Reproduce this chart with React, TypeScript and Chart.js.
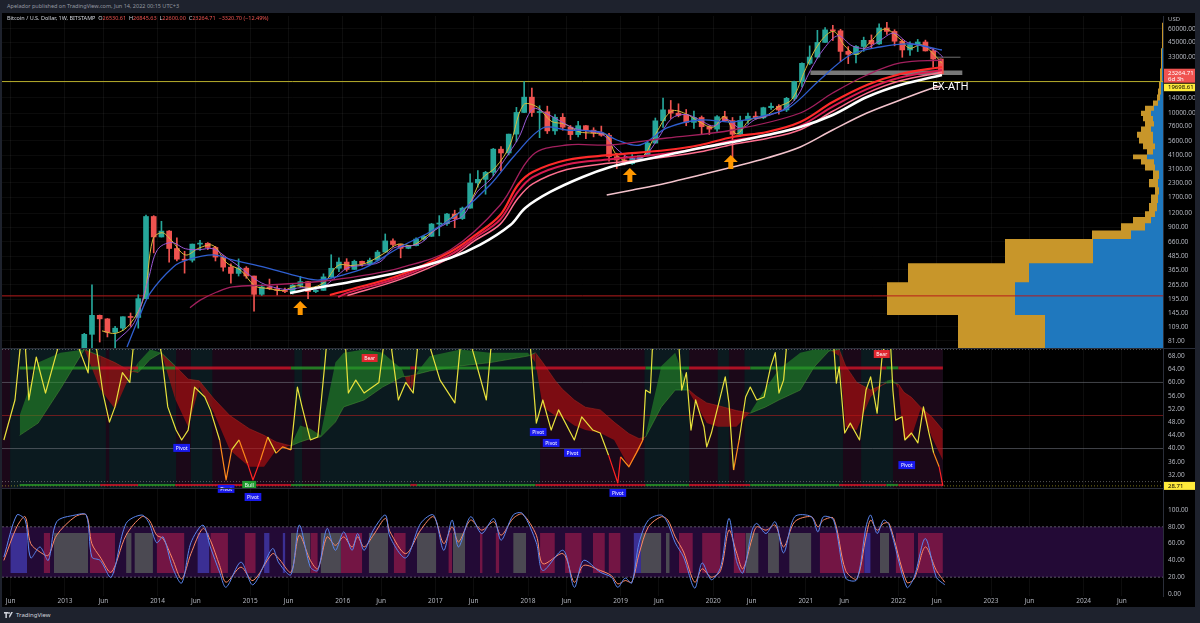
import React, { useEffect, useRef } from "react";
import { Chart, registerables } from "chart.js";

Chart.register(...registerables);

/* ===================== axis ranges ===================== */
const X_MIN = 2012.32;
const X_MAX = 2024.857;
const PRICE_MIN = 69.6;
const PRICE_MAX = 79024;
const RSI_MIN = 28.07;
const RSI_MAX = 70.42;
const STOCH_MIN = -2.38;
const STOCH_MAX = 126.2;
const VP_MAX = 1161;

/* ===================== tick labels ===================== */
const X_TICKS = [2012.414, 2013, 2013.414, 2014, 2014.414, 2015, 2015.414, 2016, 2016.414, 2017, 2017.414, 2018, 2018.414, 2019, 2019.414, 2020, 2020.414, 2021, 2021.414, 2022, 2022.414, 2023, 2023.414, 2024, 2024.414];
const PRICE_TICKS = [60000, 45000, 33000, 14000, 10000, 7600, 5600, 4100, 3100, 2300, 1700, 1200, 900, 660, 485, 365, 265, 195, 145, 109, 81];
const RSI_TICKS = [68, 64, 60, 56, 52, 48, 44, 40, 36, 32];
const STOCH_TICKS = [100, 80, 60, 40, 20, 0];

/* ===================== headline values ===================== */
const LAST_PRICE = 23264.71;
const TIME_LEFT = "6d 3h";
const EX_ATH = 19698.61;
const SUPPORT = 210;
const RSI_LAST = 28.71;

/* ===================== monthly candles Jun 2012 – Jun 2022 (O,H,L,C) ===================== */
const CANDLE_START = 2012 + 5 / 12;
const OHLC: number[][] = [
  [5.2, 6.9, 5.2, 6.7], [6.7, 9.6, 6.5, 9.3], [9.3, 15.4, 7.1, 10.1], [10.1, 12.5, 9.9, 12.4], [12.4, 12.8, 9.8, 11.2], [11.2, 12.9, 10.5, 12.6], [12.6, 13.9, 12.5, 13.5],
  [13.5, 20.7, 13.2, 20.4], [20.4, 34, 19.6, 33.4], [33.4, 95, 33, 93], [93, 266, 50, 139], [139, 140, 79, 129], [129, 130, 88, 97], [97, 110, 65, 106], [106, 135, 101, 135], [135, 146, 110, 133], [133, 215, 106, 198], [198, 1163, 199, 1129], [1129, 1150, 522, 732],
  [732, 1020, 730, 829], [829, 840, 430, 573], [573, 720, 440, 457], [457, 540, 340, 447], [447, 630, 430, 629], [629, 680, 550, 640], [640, 650, 560, 586], [586, 600, 440, 478], [478, 495, 355, 386], [386, 415, 275, 338], [338, 460, 320, 378], [378, 390, 305, 320],
  [320, 320, 152, 217], [217, 265, 212, 254], [254, 300, 240, 244], [244, 260, 214, 236], [236, 248, 225, 230], [230, 268, 218, 263], [263, 318, 253, 284], [284, 286, 198, 230], [230, 245, 225, 236], [236, 335, 236, 314], [314, 502, 307, 377], [377, 470, 350, 430],
  [430, 462, 354, 368], [368, 448, 368, 437], [437, 440, 395, 416], [416, 468, 414, 448], [448, 550, 438, 531], [531, 780, 527, 673], [673, 704, 600, 624], [624, 627, 470, 575], [575, 612, 570, 609], [609, 720, 605, 700], [700, 757, 685, 742], [742, 975, 740, 963],
  [963, 1150, 750, 970], [970, 1210, 935, 1190], [1190, 1290, 890, 1080], [1080, 1380, 1060, 1348], [1348, 2790, 1350, 2300], [2300, 2990, 2100, 2480], [2480, 2940, 1810, 2875], [2875, 4780, 2670, 4703], [4703, 4980, 2970, 4338], [4338, 6470, 4160, 6468], [6468, 11400, 5500, 10233], [10233, 19666, 10200, 14156],
  [14156, 17200, 9400, 10221], [10221, 11800, 6000, 10397], [10397, 11700, 6550, 6926], [6926, 9770, 6430, 9240], [9240, 10000, 7030, 7494], [7494, 7770, 5750, 6404], [6404, 8500, 6100, 7730], [7730, 7770, 5880, 7033], [7033, 7410, 6100, 6635], [6635, 7670, 6180, 6317], [6317, 6580, 3650, 4017], [4017, 4310, 3120, 3742],
  [3742, 4080, 3360, 3457], [3457, 4200, 3400, 3854], [3854, 4120, 3700, 4105], [4105, 5650, 4080, 5350], [5350, 9100, 5340, 8574], [8574, 13880, 7470, 10817], [10817, 13200, 9000, 10085], [10085, 12300, 9330, 9630], [9630, 10900, 7730, 8293], [8293, 10540, 7300, 9199], [9199, 9500, 6520, 7569], [7569, 7750, 6410, 7193],
  [7193, 9580, 6850, 9350], [9350, 10500, 8440, 8599], [8599, 9200, 3850, 6438], [6438, 9470, 6150, 8658], [8658, 10080, 8100, 9461], [9461, 10380, 8890, 9137], [9137, 11450, 8960, 11323], [11323, 12470, 10940, 11680], [11680, 12080, 9880, 10784], [10784, 14100, 10430, 13804], [13804, 19870, 13200, 19700], [19700, 29300, 17600, 28990],
  [28990, 41950, 28130, 33114], [33114, 58350, 32300, 45137], [45137, 61780, 44950, 58918], [58918, 64895, 47000, 57750], [57750, 59600, 30000, 37332], [37332, 41300, 28800, 35040], [35040, 42300, 29300, 41461], [41461, 50500, 37330, 47166], [47166, 52900, 39600, 43790], [43790, 67000, 43300, 61318], [61318, 69000, 53500, 57005], [57005, 59100, 42000, 46306],
  [46306, 47990, 32950, 38483], [38483, 45800, 34300, 43194], [43194, 48100, 37200, 45538], [45538, 47400, 37600, 37714], [37714, 39800, 26700, 31792], [31792, 31900, 22600, 23264.71],
];

/* ===================== moving averages on price [year, price] ===================== */
const MA_YELLOW = [[2013.40, 100], [2013.55, 95], [2013.70, 115], [2013.85, 200], [2013.95, 700], [2014.05, 800], [2014.15, 680], [2014.30, 500], [2014.45, 580], [2014.60, 610], [2014.75, 420], [2014.90, 360], [2015.05, 260], [2015.20, 245], [2015.35, 235], [2015.50, 260], [2015.65, 250], [2015.80, 280], [2015.95, 400], [2016.10, 400], [2016.25, 420], [2016.45, 520], [2016.60, 630], [2016.75, 610], [2016.90, 740], [2017.05, 920], [2017.20, 1150], [2017.35, 1400], [2017.50, 2500], [2017.65, 3200], [2017.80, 5000], [2017.95, 12000], [2018.10, 11500], [2018.25, 8500], [2018.40, 8000], [2018.55, 6800], [2018.70, 6600], [2018.85, 6300], [2018.95, 4200], [2019.10, 3600], [2019.25, 4100], [2019.40, 7000], [2019.55, 10500], [2019.70, 10000], [2019.85, 8400], [2020.00, 7500], [2020.12, 9400], [2020.25, 6500], [2020.40, 8800], [2020.55, 9300], [2020.70, 11500], [2020.85, 13500], [2021.00, 26000], [2021.15, 45000], [2021.30, 57000], [2021.42, 42000], [2021.55, 35000], [2021.70, 46000], [2021.85, 60000], [2022.00, 50000], [2022.12, 40000], [2022.25, 43000], [2022.37, 36000], [2022.47, 29000]];
const MA_PURPLE = [[2013.55, 80], [2013.75, 120], [2013.90, 300], [2014.00, 560], [2014.15, 650], [2014.30, 570], [2014.45, 560], [2014.60, 570], [2014.75, 470], [2014.90, 380], [2015.05, 300], [2015.20, 260], [2015.40, 240], [2015.55, 250], [2015.75, 245], [2015.90, 300], [2016.05, 380], [2016.20, 400], [2016.40, 430], [2016.55, 580], [2016.70, 600], [2016.85, 650], [2017.00, 850], [2017.15, 1000], [2017.30, 1150], [2017.45, 1900], [2017.60, 2500], [2017.75, 3800], [2017.90, 6000], [2018.05, 11000], [2018.20, 10000], [2018.35, 8500], [2018.50, 7300], [2018.65, 6900], [2018.80, 6500], [2018.95, 4800], [2019.10, 3900], [2019.25, 4000], [2019.40, 5800], [2019.55, 9000], [2019.70, 9800], [2019.85, 8800], [2020.00, 7700], [2020.15, 8800], [2020.30, 7300], [2020.45, 8800], [2020.60, 9600], [2020.75, 10800], [2020.90, 14000], [2021.05, 25000], [2021.20, 40000], [2021.35, 52000], [2021.50, 42000], [2021.65, 40000], [2021.80, 47000], [2021.95, 55000], [2022.10, 45000], [2022.25, 42000], [2022.40, 38000], [2022.48, 33000]];
const MA_BLUE = [[2013.67, 71], [2013.81, 140], [2013.92, 223], [2014.17, 388], [2014.32, 450], [2014.60, 500], [2014.81, 450], [2015.18, 380], [2015.54, 314], [2015.75, 294], [2016.08, 342], [2016.26, 388], [2016.62, 592], [2016.94, 813], [2017.27, 1243], [2017.59, 2202], [2017.86, 4159], [2018.16, 7368], [2018.42, 7060], [2018.78, 6769], [2018.96, 5710], [2019.21, 5137], [2019.50, 7368], [2019.86, 8727], [2020.21, 8365], [2020.58, 9703], [2020.83, 11490], [2021.15, 20360], [2021.48, 34590], [2021.80, 40980], [2022.13, 43660], [2022.47, 38450]];
const MA_MAROON = [[2014.35, 163], [2014.46, 192], [2014.64, 228], [2014.81, 254], [2015.18, 264], [2015.54, 276], [2015.89, 294], [2016.26, 327], [2016.62, 380], [2017.16, 556], [2017.70, 1441], [2018.05, 4159], [2018.42, 5137], [2018.89, 5137], [2019.50, 5960], [2020.21, 7060], [2020.94, 10120], [2021.29, 15460], [2021.66, 22640], [2022.02, 29200], [2022.47, 31110]];
const MA_RED_A = [[2015.86, 214], [2016.06, 238], [2016.62, 327], [2017.16, 532], [2017.43, 760], [2017.70, 1166], [2017.89, 2200], [2018.05, 2899], [2018.42, 3739], [2018.89, 4159], [2019.50, 4620], [2019.86, 5137], [2020.21, 6090], [2020.58, 6769], [2020.94, 8365], [2021.29, 12776], [2021.66, 18330], [2022.02, 23130], [2022.47, 26830]];
const MA_RED_B = [[2015.95, 205], [2016.06, 225], [2016.62, 312], [2017.16, 500], [2017.43, 720], [2017.70, 1060], [2017.89, 1900], [2018.05, 2600], [2018.42, 3400], [2018.89, 3800], [2019.50, 4300], [2019.86, 4800], [2020.21, 5650], [2020.58, 6300], [2020.94, 7700], [2021.29, 11600], [2021.66, 16800], [2022.02, 21500], [2022.47, 25200]];
const MA_RED_C = [[2016.05, 212], [2016.62, 298], [2017.16, 470], [2017.43, 680], [2017.70, 960], [2017.89, 1650], [2018.05, 2250], [2018.42, 3050], [2018.89, 3500], [2019.50, 4000], [2019.86, 4450], [2020.21, 5200], [2020.58, 5900], [2020.94, 7100], [2021.29, 10500], [2021.66, 15400], [2022.02, 20000], [2022.47, 24000]];
const MA_WHITE = [[2015.43, 223], [2015.72, 249], [2016.08, 282], [2016.62, 349], [2017.16, 469], [2017.48, 618], [2017.81, 943], [2017.97, 1353], [2018.24, 1899], [2018.59, 2608], [2018.89, 3222], [2019.13, 3583], [2019.50, 4159], [2019.86, 4822], [2020.21, 5476], [2020.58, 6349], [2020.94, 7525], [2021.29, 9703], [2021.66, 14200], [2022.02, 18330], [2022.47, 22640]];
const MA_PINK = [[2018.85, 1781], [2019.13, 1980], [2019.50, 2297], [2019.86, 2721], [2020.21, 3222], [2020.58, 3901], [2020.94, 4925], [2021.29, 7060], [2021.66, 10120], [2022.02, 13330], [2022.37, 17190], [2022.47, 17930]];

/* ===================== volume profile rows [low, high, total, buy] ===================== */
const VP_ROWS = [
  [0, 140, 205, 118], [140, 280, 276, 148], [280, 420, 255, 134], [420, 560, 158, 70], [560, 700, 158, 70], [700, 840, 71, 32], [840, 980, 42, 18], [980, 1120, 30, 12], [1120, 1260, 18, 8],
  [1260, 1500, 14, 6], [1500, 1800, 12, 5], [1800, 2100, 8, 4], [2100, 2500, 14, 5], [2500, 3000, 10, 4], [3000, 3400, 18, 8], [3400, 3800, 22, 9], [3800, 4200, 30, 16], [4200, 4700, 16, 10],
  [4700, 5300, 20, 8], [5300, 6000, 24, 10], [6000, 6800, 26, 10], [6800, 7600, 22, 12], [7600, 8500, 18, 9], [8500, 9500, 20, 10], [9500, 10600, 22, 12], [10600, 11800, 18, 9],
  [11800, 13200, 10, 5], [13200, 15000, 6, 3], [15000, 17000, 5, 2], [17000, 19500, 4, 2], [19500, 22000, 3, 1], [22000, 26000, 3, 1], [26000, 30000, 2, 1], [30000, 40000, 2, 1], [40000, 69000, 1, 0],
];

/* ===================== annotations ===================== */
const ARROWS = [[2015.54, 188], [2019.10, 3157], [2020.19, 4159]];
const EX_ATH_TEXT = "EX-ATH";
const EX_ATH_POS = [2022.56, 17600];
const GRAY_ZONE = [2021.05, 2022.69, 23800];
const GRAY_TICK = [2022.40, 2022.67, 33000];

/* ===================== RSI panel ===================== */
const RSI_LINE = [[2012.34, 42.6], [2012.46, 54.7], [2012.55, 80], [2012.61, 54.7], [2012.69, 67.7], [2012.79, 56.8], [2012.91, 69], [2013.02, 80], [2013.25, 62.9], [2013.29, 80], [2013.41, 56.8], [2013.48, 48], [2013.54, 52.6], [2013.62, 63], [2013.70, 60], [2013.77, 80], [2013.95, 80], [2014.04, 69], [2014.11, 52.6], [2014.20, 45.6], [2014.26, 42.6], [2014.33, 45.6], [2014.40, 58.6], [2014.51, 55.6], [2014.57, 51.7], [2014.67, 42.6], [2014.74, 30.5], [2014.80, 39.6], [2014.88, 42.6], [2014.97, 35.6], [2015.03, 30.5], [2015.11, 36.5], [2015.19, 43.5], [2015.28, 38.6], [2015.35, 40.5], [2015.44, 39.6], [2015.51, 58.6], [2015.56, 52.6], [2015.65, 42.6], [2015.73, 43.5], [2015.81, 66.8], [2015.85, 80], [2016.01, 80], [2016.06, 56.8], [2016.14, 60.7], [2016.23, 56.8], [2016.39, 60], [2016.48, 80], [2016.60, 54.7], [2016.68, 60], [2016.76, 56.8], [2016.84, 80], [2017.05, 60.7], [2017.21, 53.8], [2017.30, 80], [2017.55, 54.7], [2017.63, 80], [2018.00, 80], [2018.09, 47.7], [2018.16, 54.7], [2018.25, 45.6], [2018.33, 51.7], [2018.50, 42.6], [2018.58, 49.6], [2018.70, 45.6], [2018.78, 44.7], [2018.87, 38], [2018.97, 29.6], [2019.00, 37.5], [2019.09, 34.5], [2019.17, 38.7], [2019.24, 42.6], [2019.27, 57.7], [2019.32, 56.8], [2019.36, 80], [2019.61, 80], [2019.66, 57.7], [2019.71, 63], [2019.76, 45.6], [2019.81, 54.7], [2019.90, 46.6], [2019.93, 40.5], [2019.98, 44.7], [2020.05, 52.6], [2020.13, 61.7], [2020.17, 53.8], [2020.22, 33.5], [2020.28, 42.6], [2020.35, 55.6], [2020.40, 58.6], [2020.47, 54.7], [2020.55, 55.6], [2020.62, 64.7], [2020.67, 69], [2020.71, 56.8], [2020.76, 60.7], [2020.82, 80], [2021.28, 80], [2021.33, 59.8], [2021.36, 64.7], [2021.42, 44.7], [2021.48, 47.7], [2021.58, 42.6], [2021.65, 57.7], [2021.70, 61.7], [2021.77, 50.7], [2021.82, 66.8], [2021.90, 80], [2021.94, 57.7], [2021.97, 48.6], [2022.04, 49.6], [2022.07, 42.6], [2022.14, 44.7], [2022.21, 41.7], [2022.27, 52.6], [2022.33, 44.7], [2022.38, 38.7], [2022.44, 34.5], [2022.48, 28.71]];
const CLOUD_T = [2012.51, 2012.71, 2012.95, 2013.21, 2013.38, 2013.54, 2013.70, 2013.79, 2013.92, 2014.04, 2014.19, 2014.33, 2014.45, 2014.61, 2014.78, 2014.99, 2015.15, 2015.28, 2015.44, 2015.54, 2015.65, 2015.76, 2015.92, 2016.01, 2016.23, 2016.43, 2016.64, 2016.73, 2016.80, 2016.94, 2017.27, 2017.59, 2018.00, 2018.08, 2018.16, 2018.29, 2018.37, 2018.50, 2018.62, 2018.78, 2018.93, 2019.09, 2019.20, 2019.27, 2019.44, 2019.59, 2019.74, 2019.81, 2019.93, 2020.05, 2020.25, 2020.40, 2020.56, 2020.71, 2020.94, 2021.09, 2021.25, 2021.36, 2021.43, 2021.55, 2021.70, 2021.87, 2021.94, 2022.00, 2022.06, 2022.14, 2022.24, 2022.36, 2022.48];
const CLOUD_FAST = [50, 66, 69, 70, 58, 52, 62, 66, 70, 69, 55, 46.6, 58.6, 50.7, 39.6, 34.5, 34.5, 39.6, 41, 47, 46, 44, 66, 69, 70, 69, 64, 57, 63, 68, 70, 69, 69, 66, 52.6, 50, 49.6, 47, 45.6, 44.7, 42.6, 34.5, 39.6, 44, 65, 69, 57, 53.8, 47.7, 46.6, 46.6, 51, 58, 64, 69, 70, 70, 68, 46.6, 45.6, 55.6, 60.5, 61, 58, 42.6, 43.5, 52, 43.5, 36.5];
const CLOUD_SLOW = [44, 47.7, 58, 70, 68, 66, 63.5, 63, 67, 69, 65, 61, 60.5, 55, 50, 46, 44, 42, 40.8, 42, 43, 43.5, 48, 52.6, 54.7, 58.6, 61.7, 62, 62.5, 63.5, 65, 66, 68, 69, 66, 60.7, 58, 54.7, 52.5, 51.7, 48, 44.5, 43, 43.5, 52.6, 57.7, 57.7, 56, 53.8, 53, 51.5, 50.7, 52.5, 54.7, 57.7, 64.7, 69.5, 70, 65, 60, 57.7, 59.8, 60, 59.5, 57, 55.5, 52.5, 49.6, 45.6];
const SIGNAL_TOP = 64.4;
const SIGNAL_BOTTOM = 29.0;
const RSI_TEAL_BANDS = [[2012.32, 2022.48]];
const RSI_MAROON_BANDS = [[2012.32, 2012.41], [2013.44, 2013.48], [2014.20, 2014.36], [2014.59, 2015.48], [2015.56, 2015.76], [2018.13, 2019.26], [2019.74, 2020.05], [2020.17, 2020.34], [2021.40, 2021.60], [2021.94, 2022.48]];
const RSI_LABELS: any[] = [[2014.26, 40.2, "Pivot"], [2014.74, 27.8, "Pivot"], [2015.03, 25.35, "Pivot"], [2014.99, 29.0, "Bull"], [2018.11, 45.0, "Pivot"], [2018.25, 41.7, "Pivot"], [2018.48, 38.7, "Pivot"], [2018.97, 26.6, "Pivot"], [2022.09, 35.0, "Pivot"], [2016.29, 67.4, "Bear"], [2021.82, 68.6, "Bear"]];

/* ===================== Stochastic panel ===================== */
const STOCH_K = [[2012.34, 44], [2012.48, 94], [2012.57, 88], [2012.63, 43], [2012.73, 56], [2012.82, 40], [2012.91, 86], [2013.11, 94], [2013.23, 94], [2013.29, 44], [2013.38, 40], [2013.50, 20], [2013.66, 84], [2013.83, 94], [2013.91, 84], [2013.99, 61], [2014.06, 68], [2014.16, 32], [2014.26, 13], [2014.36, 61], [2014.49, 82], [2014.57, 56], [2014.67, 26], [2014.74, 8], [2014.90, 38], [2015.03, 11], [2015.24, 54], [2015.31, 37], [2015.44, 23], [2015.53, 82], [2015.65, 32], [2015.73, 28], [2015.83, 78], [2015.92, 52], [2016.01, 74], [2016.10, 52], [2016.16, 72], [2016.23, 52], [2016.33, 76], [2016.46, 94], [2016.51, 68], [2016.68, 43], [2016.84, 84], [2016.98, 94], [2017.09, 52], [2017.18, 88], [2017.25, 56], [2017.38, 92], [2017.50, 72], [2017.63, 90], [2017.71, 64], [2017.84, 94], [2017.94, 96], [2018.09, 61], [2018.16, 28], [2018.38, 52], [2018.50, 8], [2018.60, 40], [2018.78, 26], [2018.90, 20], [2018.97, 8], [2019.05, 19], [2019.12, 13], [2019.20, 61], [2019.30, 88], [2019.44, 94], [2019.51, 84], [2019.59, 61], [2019.68, 44], [2019.80, 7], [2019.88, 37], [2019.98, 17], [2020.08, 32], [2020.17, 90], [2020.25, 40], [2020.32, 25], [2020.42, 76], [2020.47, 84], [2020.57, 72], [2020.67, 86], [2020.76, 49], [2020.88, 92], [2021.06, 92], [2021.13, 74], [2021.19, 92], [2021.30, 88], [2021.43, 19], [2021.55, 17], [2021.65, 80], [2021.70, 94], [2021.77, 72], [2021.84, 88], [2021.90, 82], [2022.09, 8], [2022.17, 20], [2022.29, 66], [2022.41, 20], [2022.50, 11]];
const STOCH_D = [[2012.34, 40], [2012.48, 80], [2012.57, 92], [2012.63, 60], [2012.73, 50], [2012.82, 46], [2012.91, 70], [2013.11, 92], [2013.23, 94], [2013.29, 60], [2013.38, 44], [2013.50, 26], [2013.66, 70], [2013.83, 92], [2013.91, 88], [2013.99, 70], [2014.06, 66], [2014.16, 42], [2014.26, 18], [2014.36, 48], [2014.49, 78], [2014.57, 64], [2014.67, 34], [2014.74, 14], [2014.90, 32], [2015.03, 16], [2015.24, 48], [2015.31, 42], [2015.44, 26], [2015.53, 70], [2015.65, 40], [2015.73, 30], [2015.83, 68], [2015.92, 58], [2016.01, 68], [2016.10, 56], [2016.16, 68], [2016.23, 56], [2016.33, 70], [2016.46, 90], [2016.51, 74], [2016.68, 48], [2016.84, 76], [2016.98, 92], [2017.09, 60], [2017.18, 80], [2017.25, 62], [2017.38, 88], [2017.50, 76], [2017.63, 86], [2017.71, 70], [2017.84, 90], [2017.94, 95], [2018.09, 70], [2018.16, 36], [2018.38, 48], [2018.50, 14], [2018.60, 34], [2018.78, 28], [2018.90, 22], [2018.97, 12], [2019.05, 16], [2019.12, 14], [2019.20, 48], [2019.30, 80], [2019.44, 92], [2019.51, 88], [2019.59, 68], [2019.68, 50], [2019.80, 14], [2019.88, 30], [2019.98, 20], [2020.08, 28], [2020.17, 76], [2020.25, 50], [2020.32, 30], [2020.42, 66], [2020.47, 80], [2020.57, 76], [2020.67, 82], [2020.76, 56], [2020.88, 86], [2021.06, 92], [2021.13, 80], [2021.19, 88], [2021.30, 90], [2021.43, 28], [2021.55, 18], [2021.65, 68], [2021.70, 88], [2021.77, 76], [2021.84, 84], [2021.90, 84], [2022.09, 14], [2022.17, 18], [2022.29, 56], [2022.41, 28], [2022.50, 14]];
const STOCH_BAND = [20, 80];
const STOCH_BLOCK = [25, 72.6];
const STOCH_GRAY = [[2012.88, 2013.25], [2013.66, 2013.72], [2013.75, 2013.95], [2015.44, 2015.65], [2015.76, 2015.98], [2016.28, 2016.49], [2016.80, 2017.01], [2017.19, 2017.32], [2017.84, 2017.98], [2019.22, 2019.44], [2019.49, 2019.53], [2020.35, 2020.49], [2020.59, 2020.71], [2020.82, 2021.06], [2021.80, 2021.90]];
const STOCH_RED = [[2012.77, 2012.84], [2013.27, 2013.54], [2013.99, 2014.29], [2014.57, 2014.76], [2014.94, 2015.06], [2015.65, 2015.73], [2015.98, 2016.21], [2016.55, 2016.68], [2017.14, 2017.18], [2017.48, 2017.51], [2017.65, 2017.69], [2018.13, 2018.29], [2018.40, 2018.58], [2018.70, 2018.83], [2018.87, 2019.00], [2019.63, 2019.78], [2019.88, 2020.08], [2020.22, 2020.35], [2021.15, 2021.63], [2021.97, 2022.17], [2022.21, 2022.48]];
const STOCH_BLUE = [[2012.41, 2012.59], [2014.43, 2014.56], [2015.15, 2015.21], [2015.35, 2015.38], [2019.14, 2019.22], [2021.63, 2021.70]];

/* ===================== helpers ===================== */
const FONT = '"Noto Sans", Roboto, sans-serif';
const UP = "#26a69a";
const DOWN = "#ef5350";
const pts = (pairs: any[]) => pairs.map(([x, y]: number[]) => ({ x, y }));
const bandPts = (bands: any[], top: number) => bands.flatMap(([a, b]: number[]) => [{ x: a, y: top }, { x: b, y: top }, { x: b, y: null }]);
const flat = (v: number, x0 = X_MIN, x1 = X_MAX) => [{ x: x0, y: v }, { x: x1, y: v }];
const candleX = (i: number) => CANDLE_START + (i + 0.5) / 12;
const rsiColor = (v: number) => (v < 34 ? "#ff2424" : v < 41 ? "#ff8a1c" : "#e9e23c");
const cloudUp = (i: number) => CLOUD_FAST[i] >= CLOUD_SLOW[i];

function buildDatasets() {
  const ds: any[] = [];
  const L = (o: any) => ds.push({ type: "line", xAxisID: "x", pointRadius: 0, borderWidth: 1, fill: false, ...o });

  // RSI backgrounds
  L({ yAxisID: "yr", data: bandPts(RSI_TEAL_BANDS, RSI_MAX), fill: "start", backgroundColor: "#0b1a1f", borderWidth: 0, order: 100 });
  L({ yAxisID: "yr", data: bandPts(RSI_MAROON_BANDS, RSI_MAX), fill: "start", backgroundColor: "#1b0818", borderWidth: 0, order: 99 });
  // Stoch band + blocks
  L({ yAxisID: "ys", data: flat(STOCH_BAND[1]), fill: { value: STOCH_BAND[0] }, backgroundColor: "#230a36", borderWidth: 0, order: 100 });
  L({ yAxisID: "ys", data: bandPts(STOCH_GRAY, STOCH_BLOCK[1]), fill: { value: STOCH_BLOCK[0] }, backgroundColor: "#4b4952", borderWidth: 0, order: 98 });
  L({ yAxisID: "ys", data: bandPts(STOCH_RED, STOCH_BLOCK[1]), fill: { value: STOCH_BLOCK[0] }, backgroundColor: "#731544", borderWidth: 0, order: 98 });
  L({ yAxisID: "ys", data: bandPts(STOCH_BLUE, STOCH_BLOCK[1]), fill: { value: STOCH_BLOCK[0] }, backgroundColor: "#3b2f94", borderWidth: 0, order: 98 });

  // volume profile (horizontal, drawn from the right edge)
  const vp = (col: number) => VP_ROWS.flatMap((r) => [{ x: r[col], y: Math.max(r[0], PRICE_MIN) }, { x: r[col], y: r[1] }]);
  ds.push({ type: "line", indexAxis: "y", xAxisID: "xv", yAxisID: "y", data: vp(2), fill: "origin", backgroundColor: "#c8962a", borderWidth: 0, pointRadius: 0, order: 91 });
  ds.push({ type: "line", indexAxis: "y", xAxisID: "xv", yAxisID: "y", data: vp(3), fill: "origin", backgroundColor: "#1f78be", borderWidth: 0, pointRadius: 0, order: 90 });

  // horizontal price lines
  L({ yAxisID: "y", data: flat(SUPPORT), borderColor: "#b71c1c", borderWidth: 1, order: 50 });
  L({ yAxisID: "y", data: flat(EX_ATH), borderColor: "#b8ae2c", borderWidth: 1, order: 50 });
  L({ yAxisID: "y", data: flat(GRAY_ZONE[2], GRAY_ZONE[0], GRAY_ZONE[1]), borderColor: "rgba(150,150,150,0.8)", borderWidth: 4.5, order: 49 });
  L({ yAxisID: "y", data: flat(GRAY_TICK[2], GRAY_TICK[0], GRAY_TICK[1]), borderColor: "rgba(150,150,150,0.7)", borderWidth: 1, order: 49 });

  // candles
  const col = OHLC.map((c) => (c[3] >= c[0] ? UP : DOWN));
  ds.push({ type: "bar", xAxisID: "x", yAxisID: "y", grouped: false, barThickness: 1, data: OHLC.map((c, i) => ({ x: candleX(i), y: [c[2], c[1]] })), backgroundColor: col, order: 31 });
  ds.push({ type: "bar", xAxisID: "x", yAxisID: "y", grouped: false, barThickness: 5, minBarLength: 1, data: OHLC.map((c, i) => ({ x: candleX(i), y: [c[0], c[3]] })), backgroundColor: col, order: 30 });

  // moving averages
  const ma = (pairs: any[], color: string, w: number) => L({ yAxisID: "y", data: pts(pairs), borderColor: color, borderWidth: w, tension: 0.35, order: 20 });
  ma(MA_PINK, "#f3c3cc", 1.6);
  ma(MA_WHITE, "#ffffff", 2.6);
  ma(MA_RED_C, "#ff6f8f", 1.5);
  ma(MA_RED_B, "#d81b50", 2);
  ma(MA_RED_A, "#ff2a2a", 2.2);
  ma(MA_MAROON, "#a3205e", 1.3);
  ma(MA_BLUE, "#2f5fd0", 1.3);
  ma(MA_PURPLE, "#9b59d6", 1);
  ma(MA_YELLOW, "#d9bb3c", 1);

  // RSI levels
  L({ yAxisID: "yr", data: flat(70), borderColor: "rgba(190,190,190,0.45)", borderDash: [1, 2], order: 60 });
  L({ yAxisID: "yr", data: flat(60), borderColor: "rgba(120,123,134,0.55)", order: 60 });
  L({ yAxisID: "yr", data: flat(50), borderColor: "rgba(150,30,30,0.7)", order: 60 });
  L({ yAxisID: "yr", data: flat(40), borderColor: "rgba(120,123,134,0.55)", order: 60 });
  L({ yAxisID: "yr", data: flat(30), borderColor: "rgba(190,190,190,0.45)", borderDash: [1, 2], order: 60 });
  L({ yAxisID: "yr", data: flat(RSI_LAST), borderColor: "rgba(200,190,40,0.6)", borderDash: [1, 2], order: 60 });

  // RSI cloud (fast filled to slow)
  L({ yAxisID: "yr", data: CLOUD_T.map((t, i) => ({ x: t, y: CLOUD_FAST[i] })), fill: { target: "+1", above: "rgba(40,150,40,0.55)", below: "rgba(190,15,15,0.6)" }, borderColor: "rgba(0,0,0,0)", borderWidth: 0, order: 41 });
  L({ yAxisID: "yr", data: CLOUD_T.map((t, i) => ({ x: t, y: CLOUD_SLOW[i] })), borderWidth: 0.8, segment: { borderColor: (c: any) => (cloudUp(c.p0DataIndex) ? "rgba(60,170,60,0.6)" : "rgba(200,30,30,0.6)") }, order: 40 });
  // signal rows
  const sig = (v: number, w: number) => L({ yAxisID: "yr", data: CLOUD_T.map((t) => ({ x: t, y: v })), borderWidth: w, segment: { borderColor: (c: any) => (cloudUp(c.p0DataIndex) ? "rgba(40,150,40,0.8)" : "rgba(210,20,40,0.8)") }, order: 35 });
  sig(SIGNAL_TOP, 3);
  sig(SIGNAL_BOTTOM, 2);
  // RSI line
  L({ yAxisID: "yr", data: pts(RSI_LINE), borderWidth: 1.2, borderColor: "#e9e23c", segment: { borderColor: (c: any) => rsiColor((c.p0.parsed.y + c.p1.parsed.y) / 2) }, order: 10 });

  // Stoch
  L({ yAxisID: "ys", data: flat(STOCH_BAND[1]), borderColor: "rgba(140,140,150,0.6)", borderDash: [2, 2], order: 60 });
  L({ yAxisID: "ys", data: flat(STOCH_BAND[0]), borderColor: "rgba(140,140,150,0.6)", borderDash: [2, 2], order: 60 });
  L({ yAxisID: "ys", data: pts(STOCH_D), borderColor: "#ff8a65", borderWidth: 1, tension: 0.3, order: 11 });
  L({ yAxisID: "ys", data: pts(STOCH_K), borderColor: "#5b86f0", borderWidth: 1, tension: 0.3, order: 10 });
  return ds;
}

const overlayPlugin = {
  id: "overlay",
  afterDatasetsDraw(chart: any) {
    const { ctx, scales } = chart;
    const { x, y, yr } = scales;
    ctx.save();
    ctx.fillStyle = "#ff9800";
    for (const [t, p] of ARROWS) {
      const px = x.getPixelForValue(t);
      const py = y.getPixelForValue(p);
      ctx.beginPath();
      ctx.moveTo(px, py);
      ctx.lineTo(px + 7, py + 7);
      ctx.lineTo(px + 2.5, py + 7);
      ctx.lineTo(px + 2.5, py + 14);
      ctx.lineTo(px - 2.5, py + 14);
      ctx.lineTo(px - 2.5, py + 7);
      ctx.lineTo(px - 7, py + 7);
      ctx.closePath();
      ctx.fill();
    }
    ctx.font = `11px ${FONT}`;
    ctx.fillStyle = "#ffffff";
    ctx.textAlign = "center";
    ctx.textBaseline = "middle";
    ctx.fillText(EX_ATH_TEXT, x.getPixelForValue(EX_ATH_POS[0]), y.getPixelForValue(EX_ATH_POS[1]));
    ctx.font = `5px ${FONT}`;
    for (const [t, v, txt] of RSI_LABELS) {
      const px = x.getPixelForValue(t);
      const py = yr.getPixelForValue(v);
      const w = ctx.measureText(txt).width + 5;
      const h = 8;
      ctx.fillStyle = txt === "Pivot" ? "#1a1aee" : txt === "Bull" ? "#1f9d2f" : "#e0262f";
      ctx.fillRect(px - w / 2, py - h / 2, w, h);
      ctx.fillStyle = "#ffffff";
      ctx.fillText(txt, px, py + 0.5);
    }
    ctx.restore();
  },
  afterDraw(chart: any) {
    const { ctx, scales, width } = chart;
    const { y, yr, ys } = scales;
    ctx.save();
    ctx.strokeStyle = "#2a2e39";
    ctx.lineWidth = 1;
    for (const py of [yr.top, ys.top]) {
      ctx.beginPath();
      ctx.moveTo(0, Math.round(py) + 0.5);
      ctx.lineTo(width, Math.round(py) + 0.5);
      ctx.stroke();
    }
    const ax = y.left + 1;
    const aw = width - ax;
    ctx.textAlign = "left";
    ctx.textBaseline = "middle";
    ctx.font = `6px ${FONT}`;
    ctx.fillStyle = "#b2b5be";
    ctx.fillText("USD", ax + 4, y.top + 3);
    const p1 = y.getPixelForValue(LAST_PRICE);
    ctx.fillStyle = "#f05350";
    ctx.fillRect(ax, p1 - 5, aw, 14);
    ctx.fillStyle = "#ffffff";
    ctx.fillText(LAST_PRICE.toFixed(2), ax + 4, p1 - 0.5);
    ctx.fillText(TIME_LEFT, ax + 4, p1 + 5.5);
    const p2 = Math.max(y.getPixelForValue(EX_ATH) - 3.5, p1 + 10);
    ctx.fillStyle = "#ffeb3b";
    ctx.fillRect(ax, p2, aw, 7.5);
    ctx.fillStyle = "#000000";
    ctx.fillText(EX_ATH.toFixed(2), ax + 4, p2 + 4);
    const p3 = yr.getPixelForValue(RSI_LAST);
    ctx.fillStyle = "#ffeb3b";
    ctx.fillRect(ax, p3 - 4, aw, 8);
    ctx.fillStyle = "#000000";
    ctx.fillText(RSI_LAST.toFixed(2), ax + 4, p3 + 0.5);
    ctx.restore();
  },
};

function buildConfig() {
  const tickFont = { family: FONT, size: 6.5 };
  const yCommon = {
    position: "right",
    stack: "panes",
    afterFit: (s: any) => { s.width = 32; s.paddingTop = 0; s.paddingBottom = 0; },
    border: { display: true, color: "#2a2e39" },
    ticks: { color: "#b2b5be", font: tickFont, padding: 5, autoSkip: false, callback: (v: any) => Number(v).toFixed(2) },
  };
  return {
    type: "line",
    data: { datasets: buildDatasets() },
    options: {
      responsive: false,
      animation: false,
      events: [],
      devicePixelRatio: 1,
      layout: { padding: { top: 3, left: 0, right: 0, bottom: 0 }, autoPadding: false },
      elements: { point: { radius: 0, hoverRadius: 0 }, line: { borderJoinStyle: "round" } },
      plugins: { legend: { display: false }, tooltip: { enabled: false } },
      scales: {
        x: {
          type: "linear", axis: "x", position: "bottom", min: X_MIN, max: X_MAX, offset: false,
          afterBuildTicks: (s: any) => { s.ticks = X_TICKS.map((v) => ({ value: v })); },
          afterFit: (s: any) => { s.height = 11; s.paddingLeft = 0; s.paddingRight = 0; },
          grid: { color: "rgba(255,255,255,0.05)", drawTicks: false, offset: false },
          border: { display: false },
          ticks: { color: "#b2b5be", font: tickFont, padding: 1, maxRotation: 0, autoSkip: false, callback: (v: any) => (Math.abs(v - Math.round(v)) < 0.01 ? String(Math.round(v)) : "Jun") },
        },
        xv: { type: "linear", axis: "x", position: "top", display: false, reverse: true, min: 0, max: VP_MAX, offset: false },
        y: {
          ...yCommon, type: "logarithmic", axis: "y", min: PRICE_MIN, max: PRICE_MAX, stackWeight: 332,
          afterBuildTicks: (s: any) => { s.ticks = PRICE_TICKS.map((v) => ({ value: v })); },
          grid: { color: "rgba(255,255,255,0.045)", drawTicks: false },
        },
        yr: {
          ...yCommon, type: "linear", axis: "y", min: RSI_MIN, max: RSI_MAX, stackWeight: 140,
          afterBuildTicks: (s: any) => { s.ticks = RSI_TICKS.map((v) => ({ value: v })); },
          grid: { display: false, drawTicks: false },
        },
        ys: {
          ...yCommon, type: "linear", axis: "y", min: STOCH_MIN, max: STOCH_MAX, stackWeight: 108,
          afterBuildTicks: (s: any) => { s.ticks = STOCH_TICKS.map((v) => ({ value: v })); },
          grid: { display: false, drawTicks: false },
        },
      },
    },
    plugins: [overlayPlugin],
  };
}

export default function App() {
  const canvasRef = useRef<HTMLCanvasElement | null>(null);
  useEffect(() => {
    const canvas = canvasRef.current;
    if (!canvas) return;
    Chart.defaults.font.family = FONT;
    const chart = new Chart(canvas, buildConfig() as any);
    return () => chart.destroy();
  }, []);
  const red = { color: "#ef5350" };
  return (
    <div style={{ position: "fixed", left: 0, top: 0, width: 1200, height: 623, background: "#1e222d", overflow: "hidden", fontFamily: FONT }}>
      <div style={{ position: "absolute", left: 7, top: 0, height: 13, lineHeight: "13px", fontSize: 5.5, color: "#9598a1", whiteSpace: "nowrap" }}>
        Apelador published on TradingView.com, Jun 14, 2022 00:15 UTC+3
      </div>
      <div style={{ position: "absolute", left: 2, top: 13, width: 1193, height: 594, background: "#000" }}>
        <canvas ref={canvasRef} width={1193} height={594} style={{ display: "block", width: 1193, height: 594 }} />
      </div>
      <div style={{ position: "absolute", left: 7, top: 15, lineHeight: "7px", fontSize: 5.5, color: "#d1d4dc", whiteSpace: "nowrap" }}>
        Bitcoin / U.S. Dollar, 1W, BITSTAMP&nbsp;&nbsp;O<span style={red}>26530.61</span>&nbsp;&nbsp;H<span style={red}>26845.63</span>&nbsp;&nbsp;L<span style={red}>22600.00</span>&nbsp;&nbsp;C<span style={red}>23264.71</span>&nbsp;&nbsp;<span style={red}>−3320.70 (−12.49%)</span>
      </div>
      <div style={{ position: "absolute", left: 4, top: 610, height: 10, display: "flex", alignItems: "center", gap: 3, fontSize: 6, color: "#d1d4dc", whiteSpace: "nowrap" }}>
        <svg width="9" height="6" viewBox="0 0 9 6"><rect x="0" y="0" width="4" height="1.6" fill="#d1d4dc" /><rect x="1.4" y="0" width="1.5" height="6" fill="#d1d4dc" /><circle cx="5" cy="1" r="0.9" fill="#d1d4dc" /><polygon points="5.6,6 8.9,0 7.2,0 5,4" fill="#d1d4dc" /></svg>
        <span>TradingView</span>
      </div>
    </div>
  );
}
